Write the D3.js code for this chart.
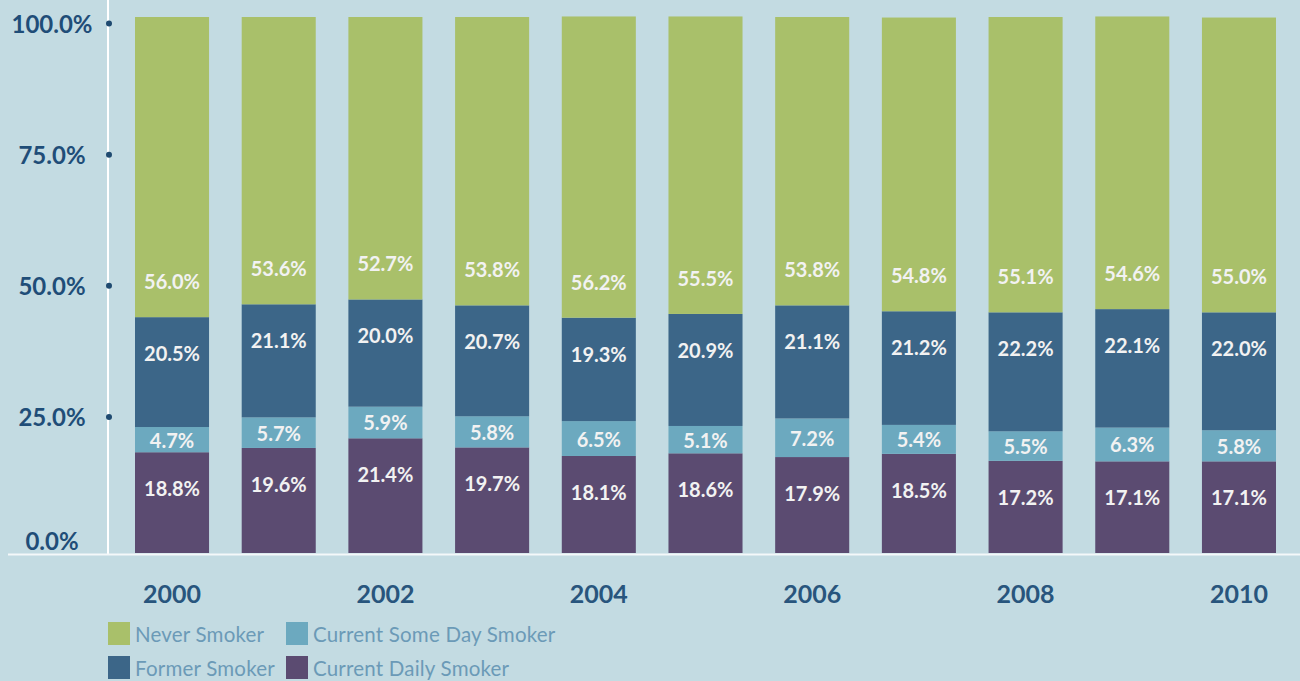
<!DOCTYPE html>
<html>
<head>
<meta charset="utf-8">
<script src="https://cdn.jsdelivr.net/npm/d3@7"></script>
<style>
  html, body { margin: 0; padding: 0; background: #c3dbe2; }
  svg { display: block; }
</style>
</head>
<body>
<script>
const years = ["2000", "2001", "2002", "2003", "2004", "2005", "2006", "2007", "2008", "2009", "2010"];
const yearLabels = ["2000", "2002", "2004", "2006", "2008", "2010"];

const dailySmoker   = [18.8, 19.6, 21.4, 19.7, 18.1, 18.6, 17.9, 18.5, 17.2, 17.1, 17.1];
const someDaySmoker = [4.7, 5.7, 5.9, 5.8, 6.5, 5.1, 7.2, 5.4, 5.5, 6.3, 5.8];
const formerSmoker  = [20.5, 21.1, 20.0, 20.7, 19.3, 20.9, 21.1, 21.2, 22.2, 22.1, 22.0];
const neverSmoker   = [56.0, 53.6, 52.7, 53.8, 56.2, 55.5, 53.8, 54.8, 55.1, 54.6, 55.0];

const seriesNames = ["Current Daily Smoker", "Current Some Day Smoker", "Former Smoker", "Never Smoker"];
const yTicks = [0, 25, 50, 75, 100];

const colors = {
  "Never Smoker": "#a9c06a",
  "Current Some Day Smoker": "#6ca9bf",
  "Former Smoker": "#3c6688",
  "Current Daily Smoker": "#5b4b71"
};

const w = 1300;
const h = 681;

const rows = years.map((y, i) => ({
  year: y,
  "Current Daily Smoker": dailySmoker[i],
  "Current Some Day Smoker": someDaySmoker[i],
  "Former Smoker": formerSmoker[i],
  "Never Smoker": neverSmoker[i]
}));

const stack = d3.stack().keys(seriesNames);
const stacked = stack(rows);

const x = d3.scaleBand()
  .domain(years)
  .range([135, 1276])
  .paddingInner(0.306)
  .paddingOuter(0);

const y = d3.scaleLinear()
  .domain([0, 100])
  .range([553, 17]);

// the printed axis marks sit on their own spacing
const yTickPos = d3.scaleLinear()
  .domain([0, 100])
  .range([548, 23.5]);

const svg = d3.select("body")
  .append("svg")
  .attr("width", w)
  .attr("height", h);

svg.append("rect")
  .attr("width", w)
  .attr("height", h)
  .attr("fill", "#c3dbe2");

// bars
const layers = svg.selectAll("g.layer")
  .data(stacked)
  .enter()
  .append("g")
  .attr("class", "layer")
  .attr("fill", (d) => colors[d.key]);

layers.selectAll("rect")
  .data((d) => d)
  .enter()
  .append("rect")
  .attr("x", (d) => x(d.data.year))
  .attr("y", (d) => y(d[1]))
  .attr("width", x.bandwidth())
  .attr("height", (d) => y(d[0]) - y(d[1]));

// value labels
const labelY = (key, d) => {
  const top = y(d[1]);
  const bottom = y(d[0]);
  if (key === "Never Smoker") return bottom - 36;
  if (key === "Current Some Day Smoker") return (top + bottom) / 2;
  return top + 36;
};

stacked.forEach((layer) => {
  svg.append("g")
    .selectAll("text")
    .data(layer)
    .enter()
    .append("text")
    .attr("x", (d) => x(d.data.year) + x.bandwidth() / 2)
    .attr("y", (d) => labelY(layer.key, d))
    .attr("text-anchor", "middle")
    .attr("dominant-baseline", "central")
    .style("font-family", "Lato, 'Open Sans', sans-serif")
    .style("font-weight", "700")
    .style("font-size", "20px")
    .style("fill", "#f2f2f2")
    .text((d) => d.data[layer.key].toFixed(1) + "%");
});

// axis lines
svg.append("line")
  .attr("x1", 108).attr("x2", 108)
  .attr("y1", 0).attr("y2", 555)
  .attr("stroke", "#ffffff")
  .attr("stroke-width", 2);

svg.append("line")
  .attr("x1", 8).attr("x2", w)
  .attr("y1", 554.5).attr("y2", 554.5)
  .attr("stroke", "#f4f8f9")
  .attr("stroke-width", 2);

// y tick dots and labels
svg.selectAll("circle.tick")
  .data(yTicks.filter((d) => d > 0))
  .enter()
  .append("circle")
  .attr("class", "tick")
  .attr("cx", 109)
  .attr("cy", (d) => yTickPos(d))
  .attr("r", 3)
  .attr("fill", "#1f4a70");

svg.selectAll("text.ylab")
  .data(yTicks)
  .enter()
  .append("text")
  .attr("class", "ylab")
  .attr("x", 52)
  .attr("y", (d) => d === 0 ? yTickPos(d) - 8 : yTickPos(d))
  .attr("text-anchor", "middle")
  .attr("dominant-baseline", "central")
  .style("font-family", "Lato, 'Open Sans', sans-serif")
  .style("font-weight", "700")
  .style("font-size", "24px")
  .style("fill", "#1f4d78")
  .text((d) => d.toFixed(1) + "%");

// x labels
svg.selectAll("text.xlab")
  .data(yearLabels)
  .enter()
  .append("text")
  .attr("class", "xlab")
  .attr("x", (d) => x(d) + x.bandwidth() / 2)
  .attr("y", 593)
  .attr("text-anchor", "middle")
  .attr("dominant-baseline", "central")
  .style("font-family", "Lato, 'Open Sans', sans-serif")
  .style("font-weight", "700")
  .style("font-size", "25px")
  .style("fill", "#28557d")
  .text((d) => d);

// legend
const legendItems = [
  { key: "Never Smoker", col: 0, row: 0 },
  { key: "Current Some Day Smoker", col: 1, row: 0 },
  { key: "Former Smoker", col: 0, row: 1 },
  { key: "Current Daily Smoker", col: 1, row: 1 }
];
const legendX = [108, 286];
const legendY = [622, 656];

const legend = svg.selectAll("g.legend")
  .data(legendItems)
  .enter()
  .append("g")
  .attr("class", "legend")
  .attr("transform", (d) => `translate(${legendX[d.col]},${legendY[d.row]})`);

legend.append("rect")
  .attr("width", 22)
  .attr("height", 23)
  .attr("fill", (d) => colors[d.key]);

legend.append("text")
  .attr("x", 27)
  .attr("y", 12)
  .attr("dominant-baseline", "central")
  .style("font-family", "Lato, 'Open Sans', sans-serif")
  .style("font-weight", "400")
  .style("font-size", "20.5px")
  .style("letter-spacing", "0.2px")
  .style("fill", "#6b9ab7")
  .text((d) => d.key);
</script>
</body>
</html>
